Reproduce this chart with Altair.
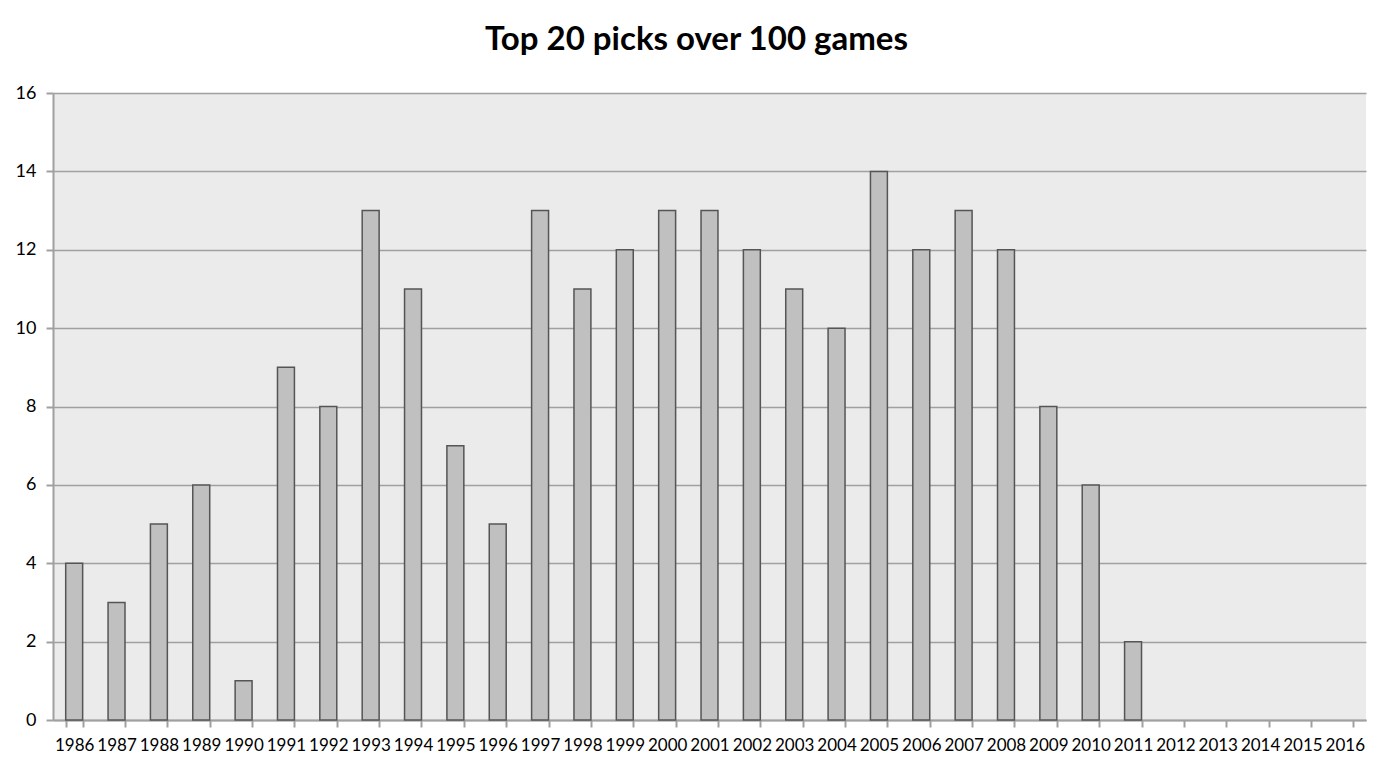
import altair as alt
import pandas as pd

years = [str(y) for y in range(1986, 2017)]
values = [4, 3, 5, 6, 1, 9, 8, 13, 11, 7, 5, 13, 11, 12, 13, 13, 12, 11, 10, 14,
          12, 13, 12, 8, 6, 2, 0, 0, 0, 0, 0]

df = pd.DataFrame({"year": years, "picks": values})

FONT = "Lato"

chart = alt.Chart(df).mark_bar(
    color="#C0C0C0", stroke="#555555", strokeWidth=1.5
).encode(
    x=alt.X("year:N", sort=years,
            scale=alt.Scale(paddingInner=0.6, paddingOuter=0.3),
            axis=alt.Axis(title=None, labelAngle=0, tickBand="extent",
                          tickSize=7, labelPadding=10, labelFontSize=17,
                          labelColor="#000000", labelFont=FONT,
                          domainColor="#A0A0A0", domainWidth=2,
                          tickColor="#A0A0A0", tickWidth=2, grid=False)),
    y=alt.Y("picks:Q", scale=alt.Scale(domain=[0, 16], nice=False),
            axis=alt.Axis(title=None, values=list(range(0, 17, 2)),
                          tickSize=7, labelPadding=10, labelFontSize=18,
                          labelColor="#000000", labelFont=FONT,
                          domainColor="#A0A0A0", domainWidth=2,
                          tickColor="#A0A0A0", tickWidth=2,
                          grid=True, gridColor="#A0A0A0", gridWidth=1.5)),
    strokeOpacity=alt.condition(alt.datum.picks > 0, alt.value(1), alt.value(0)),
).properties(
    width=1313,
    height=627,
    title=alt.TitleParams("Top 20 picks over 100 games", fontSize=33,
                          font=FONT, fontWeight="bold", color="#000000",
                          anchor="middle", dx=-13, offset=27),
    autosize=alt.AutoSizeParams(type="none"),
    padding={"left": 45, "top": 85, "right": 10, "bottom": 40},
    background="#FFFFFF",
).configure_view(
    fill="#EBEBEB", stroke=None
)

chart.save("out.html", embed_options={"renderer": "svg", "actions": False})
